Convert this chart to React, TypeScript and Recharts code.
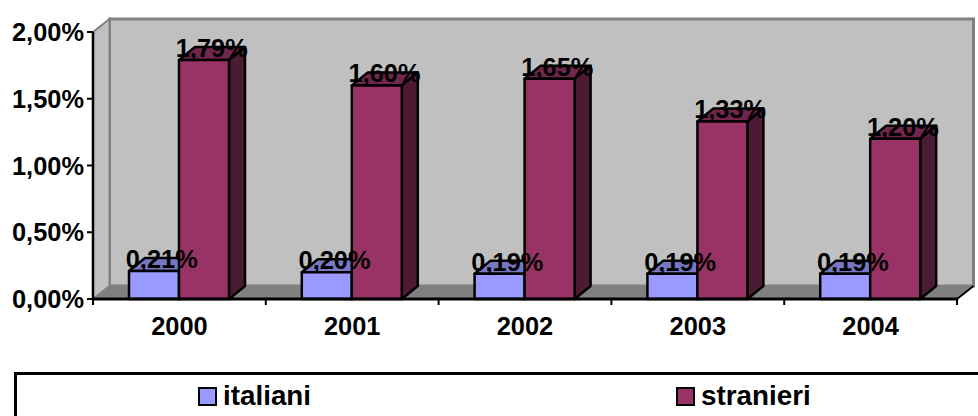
import React from 'react';
import { BarChart, Bar, XAxis, YAxis, CartesianGrid, Legend, LabelList, usePlotArea } from 'recharts';

const years = ['2000', '2001', '2002', '2003', '2004'];
const italiani = [0.21, 0.2, 0.19, 0.19, 0.19];
const stranieri = [1.79, 1.6, 1.65, 1.33, 1.2];
const yTicks = [0, 0.5, 1, 1.5, 2];

const rows = years.map((year, i) => ({ year, italiani: italiani[i], stranieri: stranieri[i] }));

// finta prospettiva 3D: spostamento del piano di fondo rispetto a quello frontale
const DEPTH_X = 16.5;
const DEPTH_Y = 13;
const FONT = '"Liberation Sans", Arial, sans-serif';
const fmt = (v: number) => v.toFixed(2).replace('.', ',') + '%';

const Walls = () => {
  const plot = usePlotArea();
  if (!plot) return null;
  const { x, y, width, height } = plot;
  const b = y + height;
  const r = x + width;
  return (
    <g>
      <rect x={x + DEPTH_X} y={y - DEPTH_Y} width={width} height={height} fill="#c0c0c0" stroke="#808080" strokeWidth={3} />
      <polygon
        points={`${x},${y} ${x + DEPTH_X},${y - DEPTH_Y} ${x + DEPTH_X},${b - DEPTH_Y} ${x},${b}`}
        fill="#c0c0c0" stroke="#808080" strokeWidth={2}
      />
      <polygon
        points={`${x},${b} ${x + DEPTH_X},${b - DEPTH_Y} ${r + DEPTH_X},${b - DEPTH_Y} ${r},${b}`}
        fill="#808080" stroke="#808080" strokeWidth={1}
      />
      <line x1={r} y1={b} x2={r + DEPTH_X} y2={b - DEPTH_Y} stroke="#000" strokeWidth={2} />
    </g>
  );
};

const gridLine = (p: any) => {
  const { x1, x2, y1, index } = p;
  if (index === 0 || y1 <= 33 || y1 >= 298) return <g key={p.key} />;
  return (
    <g key={p.key}>
      <polyline
        points={`${x1},${y1} ${x1 + DEPTH_X},${y1 - DEPTH_Y} ${x2 + DEPTH_X},${y1 - DEPTH_Y}`}
        fill="none" stroke="#000" strokeWidth={2}
      />
    </g>
  );
};

const box3d = (front: string, top: string, side: string) => (p: any) => {
  const { x, y, width, height } = p;
  const dx = DEPTH_X - 0.5;
  return (
    <g stroke="#000" strokeWidth={2.5} strokeLinejoin="round">
      <polygon points={`${x},${y} ${x + dx},${y - DEPTH_Y} ${x + width + dx},${y - DEPTH_Y} ${x + width},${y}`} fill={top} />
      <polygon points={`${x + width},${y} ${x + width + dx},${y - DEPTH_Y} ${x + width + dx},${y + height - DEPTH_Y} ${x + width},${y + height}`} fill={side} />
      <rect x={x} y={y} width={width} height={height} fill={front} />
    </g>
  );
};

const valueLabel = (p: any) => (
  <text
    x={p.x + p.width / 2 + DEPTH_X / 2 - 0.5}
    y={p.y - 3}
    textAnchor="middle"
    fontFamily={FONT}
    fontSize={25.4}
    fontWeight="bold"
    fill="#000"
  >
    {fmt(p.value)}
  </text>
);

const yearTick = (p: any) => {
  const { x, y, index, payload } = p;
  const half = 86.4;
  return (
    <g>
      <line x1={x - half} y1={y - 8} x2={x - half} y2={y - 2} stroke="#000" strokeWidth={2} />
      {index === years.length - 1 && <line x1={x + half} y1={y - 8} x2={x + half} y2={y - 2} stroke="#000" strokeWidth={2} />}
      <text x={x} y={y + 28} textAnchor="middle" fontFamily={FONT} fontSize={25.4} fontWeight="bold" fill="#000">
        {payload.value}
      </text>
    </g>
  );
};

const legendSwatches: Record<string, string> = { italiani: '#9999ff', stranieri: '#993366' };

const LegendBox = ({ payload }: any) => (
  <div style={{ position: 'relative', width: 1000, height: 60, boxSizing: 'border-box', border: '3px solid #000', background: '#fff' }}>
    {(payload ?? []).map((item: any, i: number) => (
      <div
        key={item.value}
        style={{
          position: 'absolute', left: 181 + i * 478, top: 5, display: 'flex', alignItems: 'center',
          fontFamily: FONT, fontWeight: 'bold', fontSize: 27.8, lineHeight: '32px', color: '#000',
        }}
      >
        <span style={{ display: 'inline-block', boxSizing: 'border-box', width: 19, height: 19, marginRight: 6, border: '2px solid #000', background: legendSwatches[item.value] }} />
        {item.value}
      </div>
    ))}
  </div>
);

export default function App() {
  return (
    <div style={{ position: 'absolute', left: 0, top: 0, width: 978, height: 416, overflow: 'hidden', background: '#fff' }}>
      <BarChart
        width={978}
        height={416}
        data={rows}
        margin={{ top: 32, right: 21, left: 0, bottom: 87 }}
        barCategoryGap={36}
        barGap={0}
      >
        <Walls />
        <CartesianGrid vertical={false} horizontal={gridLine} />
        <XAxis
          dataKey="year"
          height={30}
          axisLine={{ stroke: '#000', strokeWidth: 3 }}
          tickLine={false}
          tick={yearTick}
          interval={0}
        />
        <YAxis
          width={93}
          domain={[0, 2]}
          ticks={yTicks}
          tickFormatter={fmt}
          axisLine={{ stroke: '#000', strokeWidth: 2.5 }}
          tickSize={6}
          tickMargin={3}
          tickLine={{ stroke: '#000', strokeWidth: 2 }}
          tick={{ fontFamily: FONT, fontSize: 25.4, fontWeight: 'bold', fill: '#000' }}
        />
        <Bar dataKey="italiani" fill="#9999ff" shape={box3d('#9999ff', '#7777c4', '#5c5c99')} isAnimationActive={false}>
          <LabelList dataKey="italiani" content={valueLabel} />
        </Bar>
        <Bar dataKey="stranieri" fill="#993366" shape={box3d('#993366', '#73264d', '#4d1a33')} isAnimationActive={false}>
          <LabelList dataKey="stranieri" content={valueLabel} />
        </Bar>
        <Legend
          layout="horizontal"
          verticalAlign="middle"
          align="center"
          content={<LegendBox />}
          wrapperStyle={{ position: 'absolute', left: 14, top: 372, width: 1000 }}
        />
      </BarChart>
    </div>
  );
}
